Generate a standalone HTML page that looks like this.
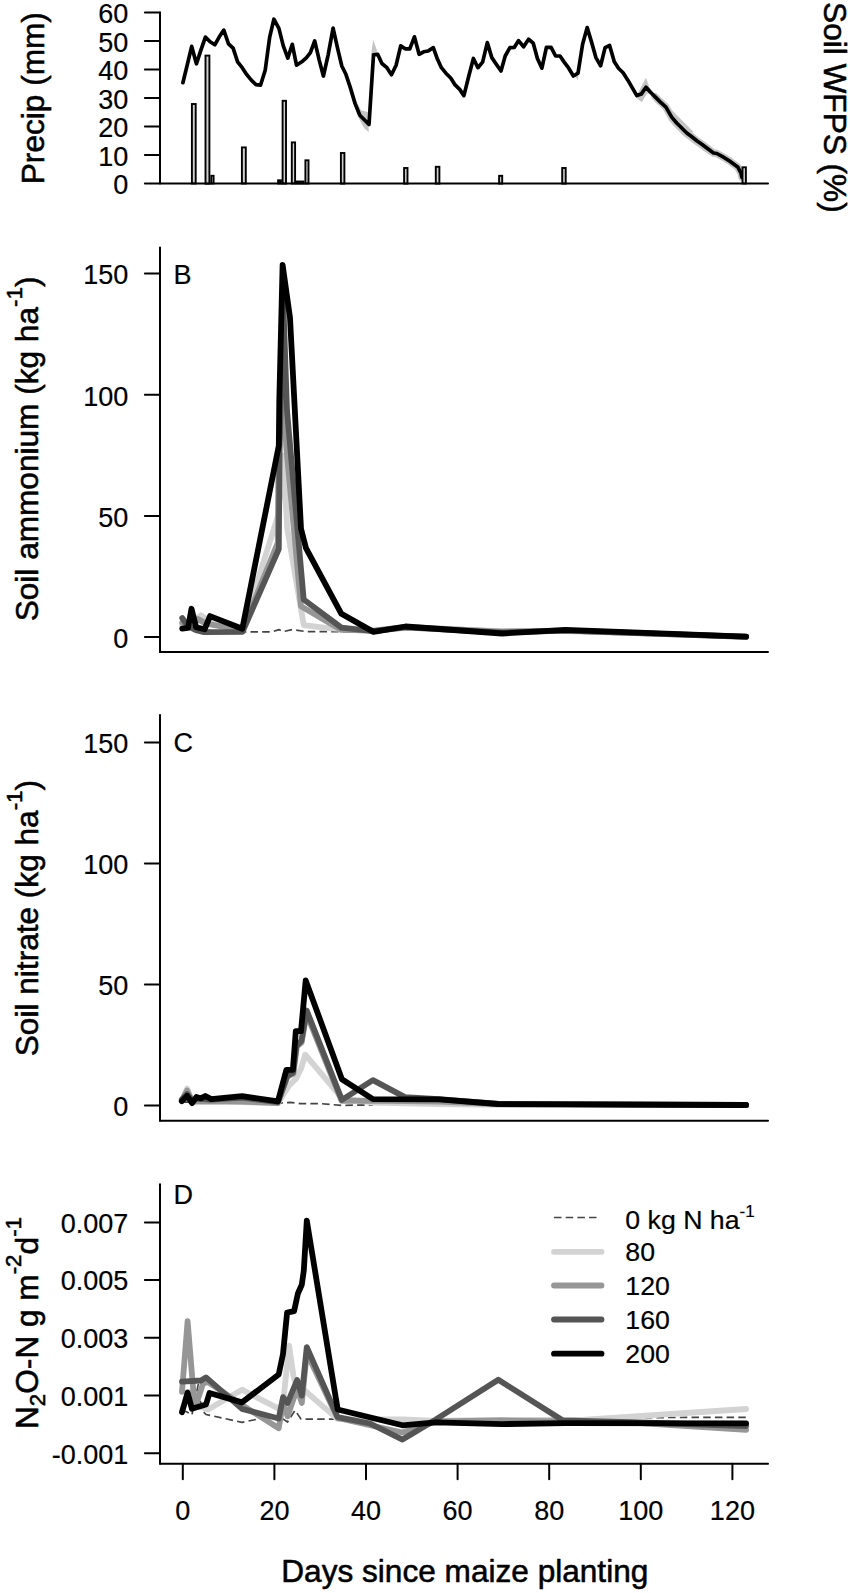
<!DOCTYPE html>
<html lang="en">
<head>
<meta charset="utf-8">
<title>Soil WFPS, precipitation, ammonium, nitrate and N2O-N flux versus days since maize planting</title>
<style>
html,body{margin:0;padding:0;background:#fff;}
body{width:850px;height:1593px;overflow:hidden;}
svg{display:block;}
svg text{font-family:"Liberation Sans", Arial, sans-serif;fill:#000;stroke:#000;stroke-width:0.2px;stroke-linejoin:round;}
svg text.lab{stroke-width:0.55px;}
</style>
</head>
<body>
<svg width="850" height="1593" viewBox="0 0 850 1593">
<rect x="0" y="0" width="850" height="1593" fill="#ffffff"/>
<g id="panelA">
<polygon points="356.0,100.2 361.0,110.3 367.7,111.9 368.8,132.0 364.3,128.6 358.5,117.8" fill="#c4c4c4"/>
<polygon points="371.0,55.1 373.2,39.8 377.2,51.0 376.0,55.1" fill="#c4c4c4"/>
<polygon points="636.0,96.9 641.0,86.9 646.0,77.7 649.4,86.9 653.6,93.6 646.9,93.6 641.9,102.2 637.2,98.6" fill="#c4c4c4"/>
<polygon points="660.2,100.2 666.9,105.2 693.6,132.0 688.6,133.6 676.9,127.0 666.9,113.6" fill="#c4c4c4"/>
<polygon points="666.7,104.1 674.2,114.6 679.2,120.5 684.2,125.5 689.3,130.5 694.3,134.3 699.3,138.3 704.3,141.7 709.3,145.5 716.0,151.4 712.1,156.0 703.8,151.0 698.8,147.2 693.8,143.8 688.8,139.8 683.7,136.0 678.7,131.0 673.7,126.0 668.7,120.1 664.2,109.6" fill="#c4c4c4"/>
<polygon points="574.2,75.2 578.4,73.5 578.0,80.2" fill="#c4c4c4"/>
<polyline points="655.2,96.9 659.9,101.6 665.9,107.1 671.7,117.1 676.7,123.0 681.7,128.0 686.8,133.0 691.8,136.8 696.8,140.8 701.8,144.2 706.8,148.0 713.5,153.0 716.8,153.5 723.5,157.2 730.2,161.4 737.7,166.9 741.0,173.1 741.9,177.3" fill="none" stroke="#c6c6c6" stroke-width="7.40" stroke-linecap="round" stroke-linejoin="round"/>
<polyline points="182.9,82.7 187.4,64.3 191.7,46.4 196.4,63.8 200.9,50.1 205.4,37.1 210.1,41.8 214.8,44.8 219.3,36.8 223.8,30.1 228.5,43.8 233.1,48.1 237.6,61.8 242.2,67.7 246.8,74.7 251.3,80.2 256.0,84.7 260.5,85.2 265.2,70.2 269.7,37.1 273.9,19.2 278.9,28.4 283.3,45.9 287.8,58.1 292.3,44.3 296.5,65.2 301.8,61.8 306.5,57.6 310.4,52.6 314.7,40.9 319.2,60.1 323.4,76.0 328.1,55.1 333.1,28.1 337.6,48.4 341.8,66.0 345.9,74.3 350.1,86.9 355.1,103.6 359.8,115.3 364.8,120.3 369.0,124.5 373.5,54.8 377.7,54.3 381.9,63.5 386.9,67.7 391.5,74.8 396.1,65.2 400.7,45.9 405.2,48.8 409.8,48.8 414.4,36.8 419.1,54.3 423.6,51.8 428.1,51.0 433.3,47.6 437.5,59.3 441.4,67.7 445.9,73.2 450.9,78.2 455.1,84.9 459.7,89.4 463.9,95.6 468.8,76.0 473.4,58.5 477.9,67.7 482.6,62.1 487.3,42.6 491.8,57.6 496.3,64.3 501.0,71.0 505.2,56.0 509.9,47.6 514.4,47.3 518.5,40.6 523.6,46.8 528.6,39.3 533.2,43.1 537.4,58.5 541.9,68.2 546.4,47.3 551.1,47.3 555.6,56.0 560.0,56.0 564.2,62.1 568.7,68.2 573.4,76.0 578.0,73.2 582.6,44.3 587.2,27.6 591.7,42.6 595.9,57.6 600.6,65.7 605.1,47.6 609.6,45.4 614.3,61.8 618.5,68.2 623.1,72.7 627.7,79.9 632.2,87.7 636.8,95.6 641.4,93.9 646.0,87.2 650.5,92.2 655.2,96.9 659.9,101.6 665.9,107.1 671.7,117.1 676.7,123.0 681.7,128.0 686.8,133.0 691.8,136.8 696.8,140.8 701.8,144.2 706.8,148.0 713.5,153.0 716.8,153.5 723.5,157.2 730.2,161.4 737.7,166.9 741.0,173.1 741.9,177.3" fill="none" stroke="#000" stroke-width="3.70" stroke-linecap="round" stroke-linejoin="round"/>
<rect x="191.9" y="104.0" width="3.8" height="79.5" fill="#cfcfcf" stroke="#000" stroke-width="1.9"/>
<rect x="205.5" y="55.6" width="3.9" height="128.1" fill="#cfcfcf" stroke="#000" stroke-width="1.9"/>
<rect x="211.3" y="175.8" width="2.3" height="7.7" fill="#cfcfcf" stroke="#000" stroke-width="1.9"/>
<rect x="241.9" y="147.4" width="3.9" height="36.1" fill="#cfcfcf" stroke="#000" stroke-width="1.9"/>
<rect x="278.1" y="180.3" width="2.8" height="3.2" fill="#cfcfcf" stroke="#000" stroke-width="1.9"/>
<rect x="282.6" y="100.8" width="3.4" height="82.8" fill="#cfcfcf" stroke="#000" stroke-width="1.9"/>
<rect x="291.8" y="142.4" width="3.3" height="41.1" fill="#cfcfcf" stroke="#000" stroke-width="1.9"/>
<rect x="296.9" y="181.5" width="6.6" height="2.0" fill="#cfcfcf" stroke="#000" stroke-width="1.9"/>
<rect x="305.4" y="160.3" width="3.1" height="23.2" fill="#cfcfcf" stroke="#000" stroke-width="1.9"/>
<rect x="340.9" y="153.0" width="3.5" height="30.6" fill="#cfcfcf" stroke="#000" stroke-width="1.9"/>
<rect x="404.1" y="168.0" width="3.4" height="15.6" fill="#cfcfcf" stroke="#000" stroke-width="1.9"/>
<rect x="435.8" y="166.8" width="3.6" height="16.8" fill="#cfcfcf" stroke="#000" stroke-width="1.9"/>
<rect x="499.1" y="175.8" width="3.1" height="7.8" fill="#cfcfcf" stroke="#000" stroke-width="1.9"/>
<rect x="562.2" y="168.0" width="3.5" height="15.6" fill="#cfcfcf" stroke="#000" stroke-width="1.9"/>
<rect x="742.5" y="167.3" width="3.4" height="16.2" fill="#cfcfcf" stroke="#000" stroke-width="1.9"/>
<line x1="160.0" y1="12.6" x2="160.0" y2="183.6" stroke="#000" stroke-width="2.00" stroke-linecap="round"/>
<line x1="144.9" y1="183.6" x2="768.0" y2="183.6" stroke="#000" stroke-width="2.00" stroke-linecap="round"/>
<line x1="144.9" y1="155.1" x2="160.0" y2="155.1" stroke="#000" stroke-width="2.00" stroke-linecap="round"/>
<line x1="144.9" y1="126.6" x2="160.0" y2="126.6" stroke="#000" stroke-width="2.00" stroke-linecap="round"/>
<line x1="144.9" y1="98.1" x2="160.0" y2="98.1" stroke="#000" stroke-width="2.00" stroke-linecap="round"/>
<line x1="144.9" y1="69.6" x2="160.0" y2="69.6" stroke="#000" stroke-width="2.00" stroke-linecap="round"/>
<line x1="144.9" y1="41.1" x2="160.0" y2="41.1" stroke="#000" stroke-width="2.00" stroke-linecap="round"/>
<line x1="144.9" y1="12.6" x2="160.0" y2="12.6" stroke="#000" stroke-width="2.00" stroke-linecap="round"/>
<text x="128.4" y="194.2" font-size="27.0" text-anchor="end">0</text>
<text x="128.4" y="165.7" font-size="27.0" text-anchor="end">10</text>
<text x="128.4" y="137.2" font-size="27.0" text-anchor="end">20</text>
<text x="128.4" y="108.7" font-size="27.0" text-anchor="end">30</text>
<text x="128.4" y="80.2" font-size="27.0" text-anchor="end">40</text>
<text x="128.4" y="51.7" font-size="27.0" text-anchor="end">50</text>
<text x="128.4" y="23.2" font-size="27.0" text-anchor="end">60</text>
<text x="44.3" y="98.2" font-size="31.6" text-anchor="middle" transform="rotate(-90 44.3 98.2)" class="lab">Precip (mm)</text>
<text x="823.5" y="107.4" font-size="31.6" text-anchor="middle" transform="rotate(90 823.5 107.4)" class="lab">Soil WFPS (%)</text>
</g>
<g id="panelB">
<polyline points="182.2,624.6 188.0,629.6 242.0,631.9 272.0,631.9 279.0,629.6 283.0,631.6 292.0,629.6 306.0,631.6 373.5,631.6" fill="none" stroke="#444444" stroke-width="1.70" stroke-linecap="butt" stroke-linejoin="round" stroke-dasharray="7.5 4.2"/>
<polyline points="182.2,625.6 191.5,622.6 201.0,615.2 210.0,622.6 242.5,628.6 278.4,514.6 282.9,455.6 287.4,529.6 303.7,625.1 327.8,628.1 373.5,631.1 405.5,627.9 502.0,631.1 565.6,631.1 746.1,636.6" fill="none" stroke="#d3d3d3" stroke-width="5.80" stroke-linecap="round" stroke-linejoin="round"/>
<polyline points="182.2,622.6 191.5,626.6 198.0,619.1 206.0,623.6 242.5,630.1 277.8,542.6 278.6,450.6 282.7,385.6 286.4,448.6 301.0,606.2 341.4,629.9 373.5,630.6 405.5,626.9 502.0,631.6 565.6,630.6 746.1,636.6" fill="none" stroke="#969696" stroke-width="5.80" stroke-linecap="round" stroke-linejoin="round"/>
<polyline points="182.2,618.0 188.0,626.1 196.0,630.1 204.0,632.1 242.5,631.9 278.8,549.0 279.6,450.6 282.9,290.6 287.0,410.6 303.7,599.5 341.4,627.6 373.5,631.1 405.5,627.4 502.0,632.6 565.6,630.6 746.1,636.9" fill="none" stroke="#555555" stroke-width="5.80" stroke-linecap="round" stroke-linejoin="round"/>
<polyline points="182.2,628.6 188.0,627.9 191.5,608.8 196.1,627.2 204.6,629.3 210.0,616.1 242.3,628.8 278.8,445.8 279.3,400.6 282.6,265.0 290.0,317.6 301.0,528.6 306.0,548.2 341.4,613.8 373.5,631.9 405.5,626.5 502.0,633.5 565.6,629.8 746.1,636.7" fill="none" stroke="#000000" stroke-width="5.80" stroke-linecap="round" stroke-linejoin="round"/>
<line x1="160.0" y1="247.4" x2="160.0" y2="652.0" stroke="#000" stroke-width="2.00" stroke-linecap="round"/>
<line x1="160.0" y1="652.0" x2="768.0" y2="652.0" stroke="#000" stroke-width="2.00" stroke-linecap="round"/>
<line x1="144.9" y1="637.1" x2="160.0" y2="637.1" stroke="#000" stroke-width="2.00" stroke-linecap="round"/>
<text x="128.4" y="647.9" font-size="27.0" text-anchor="end">0</text>
<line x1="144.9" y1="515.9" x2="160.0" y2="515.9" stroke="#000" stroke-width="2.00" stroke-linecap="round"/>
<text x="128.4" y="526.7" font-size="27.0" text-anchor="end">50</text>
<line x1="144.9" y1="394.7" x2="160.0" y2="394.7" stroke="#000" stroke-width="2.00" stroke-linecap="round"/>
<text x="128.4" y="405.5" font-size="27.0" text-anchor="end">100</text>
<line x1="144.9" y1="273.5" x2="160.0" y2="273.5" stroke="#000" stroke-width="2.00" stroke-linecap="round"/>
<text x="128.4" y="284.3" font-size="27.0" text-anchor="end">150</text>
<text x="173.6" y="284.0" font-size="27.0" text-anchor="start">B</text>
<text class="lab" transform="translate(38.3 621.3) rotate(-90)" font-size="31.6">Soil ammonium (kg ha<tspan font-size="22.4" dy="-16.3">-1</tspan><tspan dy="16.3">)</tspan></text>
</g>
<g id="panelC">
<polyline points="181.8,1102.1 242.0,1102.1 277.9,1103.2 290.0,1102.4 300.0,1103.6 320.0,1103.6 341.9,1105.4 372.9,1104.9" fill="none" stroke="#444444" stroke-width="1.70" stroke-linecap="butt" stroke-linejoin="round" stroke-dasharray="7.5 4.2"/>
<polyline points="181.8,1100.6 187.1,1088.6 192.1,1100.6 211.2,1100.1 242.1,1102.1 277.9,1103.1 289.0,1085.6 296.0,1078.6 301.0,1068.8 305.2,1054.7 341.9,1098.0 372.9,1102.7 439.0,1104.0 498.3,1104.8 565.6,1104.6 746.1,1105.2" fill="none" stroke="#d3d3d3" stroke-width="5.80" stroke-linecap="round" stroke-linejoin="round"/>
<polyline points="181.8,1100.6 187.1,1090.6 192.1,1101.6 211.2,1101.6 242.1,1101.6 277.9,1103.1 287.3,1076.6 293.4,1073.6 296.8,1046.6 301.6,1042.6 306.5,1013.6 341.6,1100.9 372.9,1100.6 439.0,1101.6 498.3,1104.2 565.6,1104.4 746.1,1105.2" fill="none" stroke="#969696" stroke-width="5.80" stroke-linecap="round" stroke-linejoin="round"/>
<polyline points="181.8,1099.6 187.1,1094.1 192.1,1100.6 196.5,1098.6 211.2,1099.6 242.1,1097.6 277.9,1102.1 287.5,1075.6 293.0,1072.6 296.5,1045.6 301.5,1040.6 306.7,1010.5 341.9,1099.9 372.9,1080.1 404.9,1097.1 439.0,1099.1 498.3,1103.8 565.6,1104.2 746.1,1105.0" fill="none" stroke="#555555" stroke-width="5.80" stroke-linecap="round" stroke-linejoin="round"/>
<polyline points="181.8,1101.2 187.1,1095.9 192.1,1103.1 196.5,1097.0 200.9,1098.4 205.3,1096.0 211.2,1099.1 242.1,1096.2 277.9,1101.4 286.4,1069.8 292.9,1069.8 295.8,1031.2 301.0,1031.2 305.7,980.4 341.9,1079.2 372.9,1099.1 439.0,1099.3 498.3,1104.0 565.6,1104.4 746.1,1105.0" fill="none" stroke="#000000" stroke-width="5.80" stroke-linecap="round" stroke-linejoin="round"/>
<line x1="160.0" y1="715.1" x2="160.0" y2="1120.8" stroke="#000" stroke-width="2.00" stroke-linecap="round"/>
<line x1="160.0" y1="1120.8" x2="768.0" y2="1120.8" stroke="#000" stroke-width="2.00" stroke-linecap="round"/>
<line x1="144.9" y1="1105.5" x2="160.0" y2="1105.5" stroke="#000" stroke-width="2.00" stroke-linecap="round"/>
<text x="128.4" y="1116.3" font-size="27.0" text-anchor="end">0</text>
<line x1="144.9" y1="984.5" x2="160.0" y2="984.5" stroke="#000" stroke-width="2.00" stroke-linecap="round"/>
<text x="128.4" y="995.2" font-size="27.0" text-anchor="end">50</text>
<line x1="144.9" y1="863.4" x2="160.0" y2="863.4" stroke="#000" stroke-width="2.00" stroke-linecap="round"/>
<text x="128.4" y="874.2" font-size="27.0" text-anchor="end">100</text>
<line x1="144.9" y1="742.4" x2="160.0" y2="742.4" stroke="#000" stroke-width="2.00" stroke-linecap="round"/>
<text x="128.4" y="753.1" font-size="27.0" text-anchor="end">150</text>
<text x="173.6" y="751.7" font-size="27.0" text-anchor="start">C</text>
<text class="lab" transform="translate(38.3 1056.2) rotate(-90)" font-size="31.6">Soil nitrate (kg ha<tspan font-size="22.4" dy="-16.3">-1</tspan><tspan dy="16.3">)</tspan></text>
</g>
<g id="panelD">
<polyline points="182.0,1410.0 187.0,1412.0 191.9,1415.0 198.2,1384.7 200.4,1401.6 203.2,1411.5 206.0,1414.5 242.0,1422.3 264.0,1417.8 278.7,1416.2 287.6,1422.0 295.0,1410.3 301.0,1419.1 337.6,1419.1 402.5,1421.5 502.0,1420.5 640.0,1417.6 746.1,1417.3" fill="none" stroke="#444444" stroke-width="1.70" stroke-linecap="butt" stroke-linejoin="round" stroke-dasharray="7.5 4.2"/>
<polyline points="182.0,1410.0 190.0,1392.0 196.0,1405.0 208.1,1409.4 242.0,1389.7 278.7,1408.7 283.1,1403.0 289.1,1345.6 293.5,1376.5 297.1,1388.2 301.8,1388.0 337.6,1419.1 402.5,1419.5 435.9,1421.0 502.0,1420.0 582.0,1419.8 746.1,1409.0" fill="none" stroke="#d3d3d3" stroke-width="5.80" stroke-linecap="round" stroke-linejoin="round"/>
<polyline points="182.0,1391.8 187.6,1321.2 193.3,1390.4 196.1,1404.5 203.0,1383.5 208.0,1382.0 242.0,1405.0 278.7,1428.3 283.1,1403.0 287.6,1416.2 297.1,1388.2 301.8,1402.9 306.8,1352.9 337.6,1418.0 402.5,1432.5 435.9,1421.5 502.0,1420.5 565.6,1421.5 640.0,1423.0 746.1,1429.8" fill="none" stroke="#969696" stroke-width="5.80" stroke-linecap="round" stroke-linejoin="round"/>
<polyline points="182.0,1381.6 201.0,1380.5 206.0,1377.4 242.0,1408.9 278.7,1418.5 283.1,1397.2 287.6,1402.9 297.1,1380.0 301.8,1395.6 306.8,1347.1 337.6,1417.1 370.0,1423.5 402.5,1439.6 435.9,1419.4 498.3,1379.7 562.9,1420.5 640.0,1422.5 746.1,1426.0" fill="none" stroke="#555555" stroke-width="5.80" stroke-linecap="round" stroke-linejoin="round"/>
<polyline points="182.0,1412.2 187.6,1392.5 191.9,1408.7 206.0,1404.5 209.5,1393.0 242.0,1402.4 278.7,1374.5 283.0,1354.0 287.1,1312.6 294.1,1311.2 297.9,1293.5 301.8,1284.7 303.8,1270.6 306.8,1220.6 337.7,1409.5 402.5,1425.3 435.9,1422.3 502.0,1424.1 565.6,1423.2 746.1,1423.3" fill="none" stroke="#000000" stroke-width="5.80" stroke-linecap="round" stroke-linejoin="round"/>
<line x1="160.0" y1="1184.2" x2="160.0" y2="1463.8" stroke="#000" stroke-width="2.00" stroke-linecap="round"/>
<line x1="160.0" y1="1463.8" x2="768.0" y2="1463.8" stroke="#000" stroke-width="2.00" stroke-linecap="round"/>
<line x1="144.9" y1="1453.3" x2="160.0" y2="1453.3" stroke="#000" stroke-width="2.00" stroke-linecap="round"/>
<text x="128.4" y="1463.5" font-size="27.0" text-anchor="end">-0.001</text>
<line x1="144.9" y1="1395.5" x2="160.0" y2="1395.5" stroke="#000" stroke-width="2.00" stroke-linecap="round"/>
<text x="128.4" y="1405.7" font-size="27.0" text-anchor="end">0.001</text>
<line x1="144.9" y1="1337.8" x2="160.0" y2="1337.8" stroke="#000" stroke-width="2.00" stroke-linecap="round"/>
<text x="128.4" y="1348.0" font-size="27.0" text-anchor="end">0.003</text>
<line x1="144.9" y1="1280.1" x2="160.0" y2="1280.1" stroke="#000" stroke-width="2.00" stroke-linecap="round"/>
<text x="128.4" y="1290.3" font-size="27.0" text-anchor="end">0.005</text>
<line x1="144.9" y1="1222.4" x2="160.0" y2="1222.4" stroke="#000" stroke-width="2.00" stroke-linecap="round"/>
<text x="128.4" y="1232.6" font-size="27.0" text-anchor="end">0.007</text>
<text x="173.6" y="1203.9" font-size="27.0" text-anchor="start">D</text>
<line x1="182.8" y1="1463.8" x2="182.8" y2="1479.3" stroke="#000" stroke-width="2.00" stroke-linecap="round"/>
<text x="182.8" y="1520.4" font-size="27.0" text-anchor="middle">0</text>
<line x1="274.4" y1="1463.8" x2="274.4" y2="1479.3" stroke="#000" stroke-width="2.00" stroke-linecap="round"/>
<text x="274.4" y="1520.4" font-size="27.0" text-anchor="middle">20</text>
<line x1="366.0" y1="1463.8" x2="366.0" y2="1479.3" stroke="#000" stroke-width="2.00" stroke-linecap="round"/>
<text x="366.0" y="1520.4" font-size="27.0" text-anchor="middle">40</text>
<line x1="457.6" y1="1463.8" x2="457.6" y2="1479.3" stroke="#000" stroke-width="2.00" stroke-linecap="round"/>
<text x="457.6" y="1520.4" font-size="27.0" text-anchor="middle">60</text>
<line x1="549.2" y1="1463.8" x2="549.2" y2="1479.3" stroke="#000" stroke-width="2.00" stroke-linecap="round"/>
<text x="549.2" y="1520.4" font-size="27.0" text-anchor="middle">80</text>
<line x1="640.8" y1="1463.8" x2="640.8" y2="1479.3" stroke="#000" stroke-width="2.00" stroke-linecap="round"/>
<text x="640.8" y="1520.4" font-size="27.0" text-anchor="middle">100</text>
<line x1="732.4" y1="1463.8" x2="732.4" y2="1479.3" stroke="#000" stroke-width="2.00" stroke-linecap="round"/>
<text x="732.4" y="1520.4" font-size="27.0" text-anchor="middle">120</text>
<text x="464.8" y="1582.4" font-size="31.6" text-anchor="middle" class="lab">Days since maize planting</text>
<text class="lab" transform="translate(38.4 1429.0) rotate(-90)" font-size="31.6">N<tspan font-size="22.4" dy="6.8">2</tspan><tspan dy="-6.8">O-N g m</tspan><tspan font-size="22.4" dy="-17.3">-2</tspan><tspan dy="17.3">d</tspan><tspan font-size="22.4" dy="-17.3">-1</tspan></text>
<line x1="554.0" y1="1217.5" x2="596.5" y2="1217.5" stroke="#444444" stroke-width="1.70" stroke-dasharray="7.5 4.2"/>
<polyline points="554.0,1251.8 601.5,1251.8" fill="none" stroke="#d3d3d3" stroke-width="5.80" stroke-linecap="round" stroke-linejoin="round"/>
<polyline points="554.0,1285.5 601.5,1285.5" fill="none" stroke="#969696" stroke-width="5.80" stroke-linecap="round" stroke-linejoin="round"/>
<polyline points="554.0,1319.5 601.5,1319.5" fill="none" stroke="#555555" stroke-width="5.80" stroke-linecap="round" stroke-linejoin="round"/>
<polyline points="554.0,1353.7 601.5,1353.7" fill="none" stroke="#000000" stroke-width="5.80" stroke-linecap="round" stroke-linejoin="round"/>
<text x="625.3" y="1229.1" font-size="26.7">0 kg N ha<tspan font-size="17" dy="-12.6">-1</tspan></text>
<text x="625.3" y="1261.4" font-size="26.7" text-anchor="start">80</text>
<text x="625.3" y="1295.1" font-size="26.7" text-anchor="start">120</text>
<text x="625.3" y="1329.1" font-size="26.7" text-anchor="start">160</text>
<text x="625.3" y="1363.3" font-size="26.7" text-anchor="start">200</text>
</g>
</svg>
</body>
</html>
